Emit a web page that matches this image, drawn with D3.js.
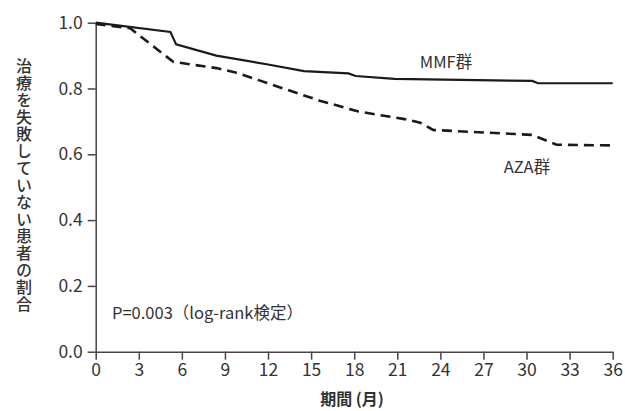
<!DOCTYPE html>
<html>
<head>
<meta charset="utf-8">
<script src="https://cdn.jsdelivr.net/npm/d3@7"></script>
<style>
  body { margin: 0; background: #fff; }
  svg text { font-family: "Noto Sans CJK JP", "Noto Sans", sans-serif; fill: #333; }
</style>
</head>
<body>
<svg id="chart"></svg>
<script>
// months / proportion without treatment failure
var mmfMonths = [0, 5.2, 5.6, 8.4, 12, 14.5, 17.6, 18.1, 20.8, 30.4, 30.8, 36];
var mmfValues = [1.0, 0.972, 0.934, 0.900, 0.873, 0.853, 0.846, 0.838, 0.829, 0.823, 0.816, 0.816];

var azaMonths = [0, 2.4, 2.9, 5.4, 8.4, 9.8, 15.6, 18.3, 21.5, 22.6, 23.5, 30.4, 32.1, 36];
var azaValues = [0.996, 0.983, 0.966, 0.881, 0.862, 0.848, 0.763, 0.730, 0.707, 0.696, 0.674, 0.659, 0.629, 0.627];

var xTicks = [0, 3, 6, 9, 12, 15, 18, 21, 24, 27, 30, 33, 36];
var yTicks = [0, 0.2, 0.4, 0.6, 0.8, 1.0];

function drawChart() {
    var width = 625;
    var height = 411;
    var margin = {top: 22.7, left: 95.7, right: 12.3, bottom: 59.3};

    var svg = d3.select('#chart')
        .attr('width', width)
        .attr('height', height);
    svg.selectAll("*").remove();

    var xScale = d3.scaleLinear()
        .domain([0, 36])
        .range([margin.left, width - margin.right]);

    var yScale = d3.scaleLinear()
        .domain([0, 1])
        .range([height - margin.bottom, margin.top]);

    var axisColor = "#4a4545";

    var gx = svg.append("g")
        .attr("transform", "translate(0," + (height - margin.bottom) + ")")
        .call(d3.axisBottom(xScale).tickValues(xTicks).tickSize(8).tickSizeOuter(0).tickPadding(4));
    gx.select(".domain").attr("stroke", axisColor).attr("stroke-width", 1.5);
    gx.selectAll(".tick line").attr("stroke", axisColor).attr("stroke-width", 1.5);
    gx.selectAll("text").style("font-size", "17.5px").attr("fill", "#3a3a3a");

    var gy = svg.append("g")
        .attr("transform", "translate(" + margin.left + ",0)")
        .call(d3.axisLeft(yScale).tickValues(yTicks).tickFormat(d3.format(".1f"))
            .tickSize(8).tickSizeOuter(0).tickPadding(5));
    gy.select(".domain").attr("stroke", axisColor).attr("stroke-width", 1.5);
    gy.selectAll(".tick line").attr("stroke", axisColor).attr("stroke-width", 1.5);
    gy.selectAll("text").style("font-size", "17.5px").attr("fill", "#3a3a3a");

    var line = d3.line()
        .x(function (d) { return xScale(d[0]); })
        .y(function (d) { return yScale(d[1]); });

    var mmf = d3.zip(mmfMonths, mmfValues);
    var aza = d3.zip(azaMonths, azaValues);

    svg.append("path")
        .datum(aza)
        .attr("d", line)
        .attr("fill", "none")
        .attr("stroke", "#1a1a1a")
        .attr("stroke-width", 2.6)
        .attr("stroke-dasharray", "10,6");

    svg.append("path")
        .datum(mmf)
        .attr("d", line)
        .attr("fill", "none")
        .attr("stroke", "#1a1a1a")
        .attr("stroke-width", 2.2);

    // labels
    svg.append("text")
        .attr("x", 446)
        .attr("y", 68)
        .attr("text-anchor", "middle")
        .style("font-size", "16.5px")
        .text("MMF群");

    svg.append("text")
        .attr("x", 527)
        .attr("y", 173)
        .attr("text-anchor", "middle")
        .style("font-size", "16.5px")
        .text("AZA群");

    svg.append("text")
        .attr("x", 112)
        .attr("y", 319)
        .style("font-size", "16.5px")
        .text("P=0.003（log-rank検定）");

    svg.append("text")
        .attr("x", 352)
        .attr("y", 405)
        .attr("text-anchor", "middle")
        .style("font-size", "16px")
        .style("font-weight", "bold")
        .text("期間 (月)");

    svg.append("text")
        .attr("x", 24)
        .attr("y", 185)
        .attr("text-anchor", "middle")
        .style("writing-mode", "vertical-rl")
        .style("text-orientation", "upright")
        .style("font-size", "16px")
        .style("font-weight", "500")
        .style("letter-spacing", "1px")
        .text("治療を失敗していない患者の割合");
}

drawChart();
</script>
</body>
</html>
